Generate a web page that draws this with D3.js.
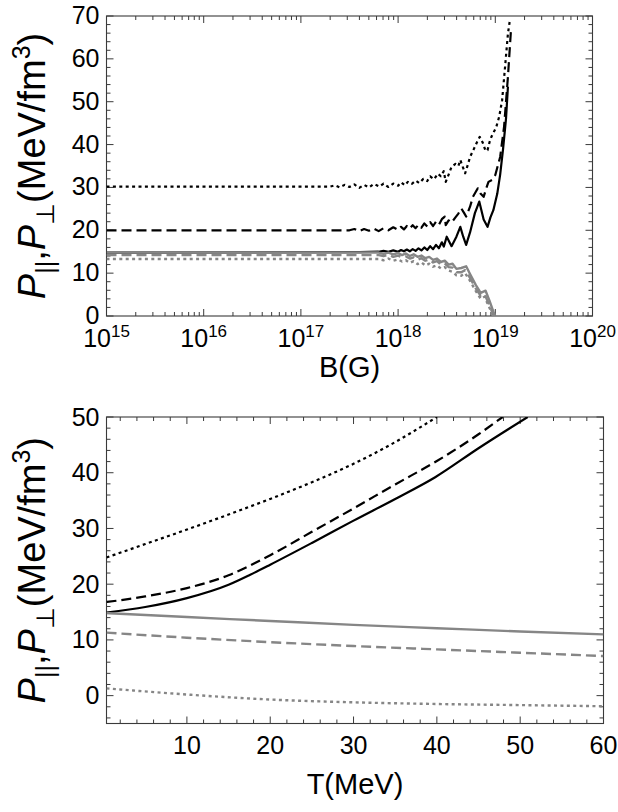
<!DOCTYPE html>
<html>
<head>
<meta charset="utf-8">
<script src="https://cdn.jsdelivr.net/npm/d3@7/dist/d3.min.js"></script>
<style>
  html, body { margin: 0; padding: 0; background: #fff; }
  svg { display: block; font-family: "Liberation Sans", Arial, Helvetica, sans-serif; }
</style>
</head>
<body>
<svg id="chart" width="618" height="812"></svg>
<script>
// ---- Panel (a): pressures versus magnetic field, pairs of [log10(B / G), P] ----
const bBlackSolid = [
  [15, 14.8], [17.6, 14.9], [17.8, 15.0], [17.85, 15.2], [17.9, 15.0], [17.95, 15.3], [18.0, 15.0],
  [18.03, 15.4], [18.06, 15.1], [18.09, 15.5], [18.12, 15.1], [18.15, 15.6], [18.18, 15.2], [18.21, 15.8],
  [18.24, 15.3], [18.27, 16.0], [18.30, 15.4], [18.33, 16.3], [18.36, 15.6], [18.39, 16.6], [18.42, 15.8],
  [18.45, 17.2], [18.47, 16.2], [18.50, 18.5], [18.55, 16.3], [18.60, 18.5], [18.64, 20.8], [18.67, 18.5],
  [18.70, 16.6], [18.74, 19.5], [18.79, 24.0], [18.835, 26.7], [18.88, 22.5], [18.92, 20.8], [18.95, 23.0],
  [18.98, 24.7], [19.02, 28.5], [19.05, 33.0], [19.08, 39.0], [19.11, 46.0], [19.13, 53.5]
];
const bBlackDashed = [
  [15, 20.0], [17.5, 20.0], [17.55, 20.3], [17.6, 19.8], [17.65, 20.3], [17.7, 19.9], [17.75, 20.4],
  [17.8, 19.8], [17.85, 20.5], [17.9, 20.0], [17.95, 20.7], [18.0, 20.1], [18.03, 20.8], [18.06, 20.2],
  [18.09, 21.0], [18.12, 20.4], [18.15, 21.2], [18.18, 20.5], [18.21, 21.3], [18.24, 20.6], [18.27, 21.6],
  [18.30, 20.9], [18.33, 21.9], [18.36, 21.0], [18.39, 22.0], [18.42, 21.3], [18.45, 22.6], [18.48, 23.2],
  [18.49, 21.2], [18.52, 22.3], [18.55, 21.8], [18.59, 23.0], [18.62, 23.9], [18.65, 25.1], [18.68, 24.0],
  [18.70, 23.2], [18.74, 25.5], [18.77, 27.8], [18.82, 29.8], [18.85, 28.5], [18.88, 27.8], [18.91, 30.0],
  [18.93, 31.3], [18.97, 31.8], [19.0, 32.9], [19.05, 37.1], [19.09, 44.1], [19.13, 55.8], [19.16, 66.3]
];
const bBlackDotted = [
  [15, 30.2], [17.30, 30.2], [17.35, 30.5], [17.40, 30.0], [17.45, 30.6], [17.50, 30.1], [17.55, 30.7],
  [17.60, 29.9], [17.65, 30.6], [17.70, 30.0], [17.75, 30.8], [17.81, 30.2], [17.85, 30.9], [17.90, 30.1],
  [17.95, 30.9], [18.00, 30.4], [18.03, 31.2], [18.07, 30.5], [18.10, 31.3], [18.14, 30.8], [18.18, 31.6],
  [18.22, 31.0], [18.26, 32.0], [18.30, 31.5], [18.33, 32.6], [18.37, 31.9], [18.41, 33.2], [18.44, 32.6],
  [18.47, 33.8], [18.49, 31.3], [18.52, 33.0], [18.55, 34.8], [18.59, 35.5], [18.62, 35.0], [18.64, 36.4],
  [18.67, 34.5], [18.69, 33.3], [18.72, 35.5], [18.74, 37.1], [18.78, 39.0], [18.81, 40.5], [18.84, 41.8],
  [18.87, 40.5], [18.90, 38.5], [18.92, 38.7], [18.94, 40.5], [18.96, 41.8], [19.01, 44.1], [19.04, 46.5],
  [19.07, 50.3], [19.10, 58.0], [19.13, 65.9], [19.15, 69.0]
];
const bGraySolid = [
  [15, 14.8], [17.8, 14.8], [17.85, 14.5], [17.9, 14.8], [17.95, 14.4], [18.0, 14.7], [18.04, 14.2],
  [18.08, 14.6], [18.12, 14.0], [18.16, 14.4], [18.2, 13.8], [18.24, 14.1], [18.28, 13.5], [18.32, 13.8],
  [18.36, 13.1], [18.40, 13.4], [18.44, 12.6], [18.48, 12.9], [18.52, 12.0], [18.56, 12.2], [18.60, 11.0],
  [18.65, 11.2], [18.70, 11.6], [18.74, 9.8], [18.8, 7.2], [18.85, 5.4], [18.9, 5.9], [18.94, 3.6],
  [18.98, 1.0], [19.0, 0]
];
const bGrayDashed = [
  [15, 14.2], [17.8, 14.2], [17.85, 14.0], [17.9, 14.3], [17.95, 13.8], [18.0, 14.1], [18.04, 13.7],
  [18.08, 13.9], [18.12, 13.4], [18.16, 13.7], [18.2, 13.1], [18.24, 13.5], [18.28, 12.9], [18.32, 13.2],
  [18.36, 12.5], [18.40, 12.8], [18.44, 12.0], [18.48, 12.2], [18.52, 11.4], [18.56, 11.3], [18.60, 10.2],
  [18.65, 10.2], [18.69, 10.7], [18.74, 8.9], [18.8, 6.4], [18.85, 4.7], [18.89, 5.1], [18.93, 3.0],
  [18.97, 0.8], [18.99, 0]
];
const bGrayDotted = [
  [15, 13.3], [17.8, 13.3], [17.85, 13.0], [17.9, 13.4], [17.95, 12.9], [18.0, 13.2], [18.04, 12.7],
  [18.08, 13.0], [18.12, 12.4], [18.16, 12.8], [18.2, 12.1], [18.24, 12.5], [18.28, 11.8], [18.32, 12.2],
  [18.36, 11.5], [18.40, 11.8], [18.44, 11.1], [18.48, 11.4], [18.52, 10.6], [18.56, 10.3], [18.60, 9.5],
  [18.65, 9.4], [18.69, 10.0], [18.74, 8.2], [18.8, 5.8], [18.85, 4.0], [18.89, 4.5], [18.93, 2.4],
  [18.97, 0.4], [18.99, 0]
];
const bExponents = [15, 16, 17, 18, 19, 20];
const pTicksA = [0, 10, 20, 30, 40, 50, 60, 70];

// ---- Panel (b): pressures versus temperature, pairs of [T (MeV), P] ----
const tBlackSolid = [[0.35, 14.9], [5, 15.9], [10, 17.5], [15, 19.9], [17.6, 21.7], [20, 23.5], [25, 27.4],
  [30, 31.4], [35, 35.3], [39.8, 39.2], [45, 44.4], [50.9, 50.0]];
const tBlackDashed = [[0.35, 16.8], [5, 17.8], [10, 19.3], [15, 21.6], [20, 25.2], [25, 29.4], [30, 33.6],
  [35, 37.9], [40, 42.1], [45, 46.9], [47.9, 50.0]];
const tBlackDotted = [[0.35, 24.8], [5, 27.2], [10, 29.8], [15, 32.5], [20, 35.3], [25, 38.3], [30, 41.6],
  [35, 45.5], [40, 50.0]];
const tGraySolid = [[0.35, 14.8], [10, 14.1], [20, 13.4], [30, 12.7], [40, 12.1], [50, 11.5], [60, 11.0]];
const tGrayDashed = [[0.35, 11.3], [10, 10.4], [20, 9.6], [30, 8.9], [40, 8.3], [50, 7.7], [60, 7.1]];
const tGrayDotted = [[0.35, 1.3], [10, 0.2], [20, -0.7], [30, -1.2], [40, -1.5], [50, -1.7], [60, -1.9]];
const tTicks = [10, 20, 30, 40, 50, 60];
const pTicksB = [0, 10, 20, 30, 40, 50];

const svg = d3.select("#chart");
const BLACK = "#000", GRAY = "#868686", FRAME = "#3a3a3a";
const DASH = "10,5", DOT = "3,3.4";

const panelA = { left: 106.5, right: 592.5, top: 16, bottom: 316 };
const panelB = { left: 106.5, right: 603.5, top: 417, bottom: 723.5 };

const xA = d3.scaleLog().domain([1e15, 1e20]).range([panelA.left, panelA.right]);
const yA = d3.scaleLinear().domain([0, 70]).range([panelA.bottom, panelA.top]);
const xB = d3.scaleLinear().domain([0.35, 60]).range([panelB.left, panelB.right]);
const yB = d3.scaleLinear().domain([-5, 50]).range([panelB.bottom, panelB.top]);

// Inward frame ticks on all four sides
function frameTicks(g, p, xs, ys, xMajor, xMinor, yMajor, yMinor) {
  const seg = (x1, y1, x2, y2) => g.append("line")
    .attr("x1", x1).attr("y1", y1).attr("x2", x2).attr("y2", y2)
    .attr("stroke", FRAME).attr("stroke-width", 1);
  xMajor.forEach(v => { const x = xs(v); seg(x, p.bottom, x, p.bottom - 7); seg(x, p.top, x, p.top + 7); });
  xMinor.forEach(v => { const x = xs(v); seg(x, p.bottom, x, p.bottom - 4); seg(x, p.top, x, p.top + 4); });
  yMajor.forEach(v => { const y = ys(v); seg(p.left, y, p.left + 7, y); seg(p.right, y, p.right - 7, y); });
  yMinor.forEach(v => { const y = ys(v); seg(p.left, y, p.left + 4, y); seg(p.right, y, p.right - 4, y); });
  g.append("rect").attr("x", p.left).attr("y", p.top)
    .attr("width", p.right - p.left).attr("height", p.bottom - p.top)
    .attr("fill", "none").attr("stroke", FRAME).attr("stroke-width", 1.1);
}

function yTitle(cx, cy) {
  const t = svg.append("text")
    .attr("transform", `translate(${cx},${cy}) rotate(-90)`)
    .attr("text-anchor", "middle").attr("font-size", 38).attr("fill", "#000");
  t.append("tspan").attr("font-style", "italic").text("P");
  t.append("tspan").attr("font-size", 25).attr("dy", 9).text("||");
  t.append("tspan").attr("dy", -9).text(",");
  t.append("tspan").attr("font-style", "italic").text("P");
  t.append("tspan").attr("font-size", 25).attr("dy", 9).text("⊥");
  t.append("tspan").attr("dy", -9).text("(MeV/fm");
  t.append("tspan").attr("font-size", 25).attr("dy", -15).text("3");
  t.append("tspan").attr("dy", 15).text(")");
}

function drawCurves(clipId, p, xs, ys, series, curve, xAccessor) {
  svg.append("clipPath").attr("id", clipId).append("rect")
    .attr("x", p.left).attr("y", p.top).attr("width", p.right - p.left).attr("height", p.bottom - p.top);
  const g = svg.append("g").attr("clip-path", `url(#${clipId})`);
  series.forEach(s => {
    const line = d3.line().x(d => xs(xAccessor(d[0]))).y(d => ys(d[1])).curve(curve);
    g.append("path").datum(s.data).attr("d", line)
      .attr("fill", "none").attr("stroke", s.color).attr("stroke-width", s.width)
      .attr("stroke-dasharray", s.dash).attr("stroke-linejoin", "round");
  });
}

// ---------- Panel (a) ----------
const gA = svg.append("g");
const logMinor = [];
for (let e = 15; e < 20; e++) for (let k = 2; k <= 9; k++) logMinor.push(k * Math.pow(10, e));
const pMinorA = d3.range(0, 70.1, 2).filter(v => v % 10 !== 0);

drawCurves("clipA", panelA, xA, yA, [
  { data: bBlackSolid, color: BLACK, width: 2.2, dash: null },
  { data: bBlackDashed, color: BLACK, width: 2.2, dash: DASH },
  { data: bBlackDotted, color: BLACK, width: 2.2, dash: DOT },
  { data: bGrayDotted, color: GRAY, width: 2.4, dash: DOT },
  { data: bGrayDashed, color: GRAY, width: 2.4, dash: DASH },
  { data: bGraySolid, color: GRAY, width: 2.4, dash: null }
], d3.curveLinear, v => Math.pow(10, v));

frameTicks(gA, panelA, xA, yA, bExponents.map(e => Math.pow(10, e)), logMinor, pTicksA, pMinorA);

pTicksA.forEach(v => {
  svg.append("text").attr("x", panelA.left - 7).attr("y", yA(v) + 8)
    .attr("text-anchor", "end").attr("font-size", 25).text(v);
});
bExponents.forEach(e => {
  const t = svg.append("text").attr("x", xA(Math.pow(10, e))).attr("y", 347)
    .attr("text-anchor", "middle").attr("font-size", 25);
  t.append("tspan").text("10");
  t.append("tspan").attr("font-size", 17).attr("dy", -10).text(e);
});
svg.append("text").attr("x", (panelA.left + panelA.right) / 2).attr("y", 377)
  .attr("text-anchor", "middle").attr("font-size", 29).text("B(G)");
yTitle(45, (panelA.top + panelA.bottom) / 2);

// ---------- Panel (b) ----------
const gB = svg.append("g");
const tMinor = d3.range(2, 60, 2).filter(v => v % 10 !== 0);
const pMinorB = d3.range(-4, 50, 2).filter(v => v % 10 !== 0);

drawCurves("clipB", panelB, xB, yB, [
  { data: tBlackSolid, color: BLACK, width: 2.2, dash: null },
  { data: tBlackDashed, color: BLACK, width: 2.2, dash: DASH },
  { data: tBlackDotted, color: BLACK, width: 2.2, dash: DOT },
  { data: tGraySolid, color: GRAY, width: 2.4, dash: null },
  { data: tGrayDashed, color: GRAY, width: 2.4, dash: DASH },
  { data: tGrayDotted, color: GRAY, width: 2.4, dash: DOT }
], d3.curveMonotoneX, v => v);

frameTicks(gB, panelB, xB, yB, tTicks, tMinor, pTicksB, pMinorB);

pTicksB.forEach(v => {
  svg.append("text").attr("x", panelB.left - 7).attr("y", yB(v) + 8.5)
    .attr("text-anchor", "end").attr("font-size", 25).text(v);
});
tTicks.forEach(v => {
  svg.append("text").attr("x", xB(v)).attr("y", 754)
    .attr("text-anchor", "middle").attr("font-size", 25).text(v);
});
svg.append("text").attr("x", 355).attr("y", 794)
  .attr("text-anchor", "middle").attr("font-size", 29).text("T(MeV)");
yTitle(45, (panelB.top + panelB.bottom) / 2);
</script>
</body>
</html>
